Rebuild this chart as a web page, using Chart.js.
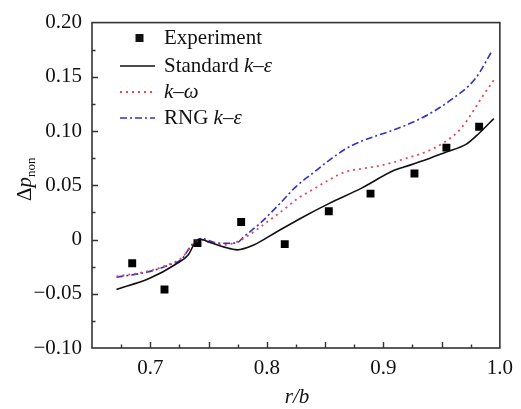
<!DOCTYPE html>
<html>
<head>
<meta charset="utf-8">
<script src="https://cdn.jsdelivr.net/npm/chart.js@4"></script>
<style>
  html, body { margin: 0; padding: 0; background: #fff; }
  canvas { display: block; }
</style>
</head>
<body>
<canvas id="pressureChart" width="521" height="409"></canvas>
<script>
// measured points
const expX = [0.6845, 0.7122, 0.7405, 0.778, 0.8154, 0.8532, 0.889, 0.9267, 0.9541, 0.9822];
const expY = [-0.0218, -0.046, -0.0033, 0.0161, -0.0042, 0.026, 0.0423, 0.0609, 0.0847, 0.104];

// Standard k-epsilon
const stdX = [0.671, 0.699, 0.7215, 0.7327, 0.7383, 0.7425, 0.7495, 0.7635, 0.7747, 0.7888, 0.8083, 0.8308, 0.8532, 0.8813, 0.9093, 0.9177, 0.9346, 0.9541, 0.9709, 0.9822, 0.9948];
const stdY = [-0.046, -0.036, -0.023, -0.014, -0.003, 0.0005, -0.002, -0.007, -0.0095, -0.005, 0.007, 0.0206, 0.0331, 0.0474, 0.0638, 0.0668, 0.0728, 0.0808, 0.0877, 0.098, 0.1115];

// k-omega
const kwX = [0.671, 0.699, 0.7158, 0.727, 0.7355, 0.743, 0.7495, 0.7635, 0.7747, 0.7831, 0.8, 0.8168, 0.8253, 0.8392, 0.8532, 0.8672, 0.8813, 0.8953, 0.9093, 0.9177, 0.9346, 0.9514, 0.9654, 0.9766, 0.9836, 0.9948];
const kwY = [-0.034, -0.029, -0.023, -0.017, -0.006, 0.0, -0.002, -0.005, -0.002, 0.003, 0.016, 0.0295, 0.037, 0.0459, 0.0549, 0.0623, 0.0653, 0.0677, 0.0713, 0.0743, 0.080, 0.089, 0.101, 0.1175, 0.1295, 0.147];

// RNG k-epsilon
const rngX = [0.671, 0.699, 0.7158, 0.727, 0.7355, 0.7439, 0.7551, 0.7663, 0.7747, 0.7804, 0.7943, 0.8111, 0.8253, 0.8392, 0.8532, 0.8672, 0.8813, 0.8953, 0.9093, 0.9346, 0.957, 0.9794, 0.9934];
const rngY = [-0.0347, -0.0296, -0.0236, -0.018, -0.005, 0.001, -0.0027, -0.0035, -0.0027, 0.0027, 0.015, 0.033, 0.049, 0.061, 0.0728, 0.0833, 0.0907, 0.0961, 0.1012, 0.113, 0.128, 0.149, 0.1742];

// axis ticks
const xTickValues = [0.7, 0.8, 0.9, 1.0];
const xTickLabels = ['0.7', '0.8', '0.9', '1.0'];
const yTickValues = [-0.10, -0.05, 0, 0.05, 0.10, 0.15, 0.20];
const yTickLabels = ['\u22120.10', '\u22120.05', '0', '0.05', '0.10', '0.15', '0.20'];

const serif = '"Liberation Serif", "Times New Roman", serif';
const black = '#111';
const red = '#e2485e';
const blue = '#3232c8';

function toPoints(xs, ys) {
    return xs.map((x, i) => ({ x: x, y: ys[i] }));
}

// draw text pieces one after another (roman / italic / subscript)
function drawParts(ctx, parts, x, y) {
    parts.forEach(p => {
        ctx.font = (p.italic ? 'italic ' : '') + (p.size || 21) + 'px ' + serif;
        ctx.fillText(p.text, x, y + (p.dy || 0));
        x += ctx.measureText(p.text).width;
    });
}

// frame, inward ticks and axis titles
const framePlugin = {
    id: 'frame',
    afterDraw(chart) {
        const ctx = chart.ctx;
        const area = chart.chartArea;
        const xs = chart.scales.x;
        const ys = chart.scales.y;
        ctx.save();
        ctx.strokeStyle = '#333';
        ctx.lineWidth = 1.6;
        ctx.strokeRect(area.left, area.top, area.right - area.left, area.bottom - area.top);

        ctx.lineWidth = 1.4;
        ctx.beginPath();
        for (let v = 0.675; v < 0.999; v += 0.025) {
            const px = Math.round(xs.getPixelForValue(v)) + 0.5;
            const major = Math.round(v * 1000) % 50 === 0;
            ctx.moveTo(px, area.bottom);
            ctx.lineTo(px, area.bottom - (major ? 6 : 3.5));
        }
        for (let v = -0.075; v < 0.199; v += 0.025) {
            const py = Math.round(ys.getPixelForValue(v)) + 0.5;
            const major = Math.round(Math.abs(v) * 1000) % 50 === 0;
            ctx.moveTo(area.left, py);
            ctx.lineTo(area.left + (major ? 6 : 3.5), py);
        }
        ctx.stroke();

        ctx.fillStyle = black;
        ctx.textBaseline = 'alphabetic';

        // x title
        ctx.font = 'italic 21px ' + serif;
        ctx.textAlign = 'center';
        ctx.fillText('r/b', 297, 403);

        // y title, rotated
        ctx.textAlign = 'left';
        ctx.translate(31, 201);
        ctx.rotate(-Math.PI / 2);
        drawParts(ctx, [
            { text: '\u0394' },
            { text: 'p', italic: true },
            { text: 'non', size: 13, dy: 4 }
        ], 0, 0);
        ctx.restore();
    }
};

// legend box in the upper left corner
const legendPlugin = {
    id: 'modelLegend',
    afterDraw(chart) {
        const ctx = chart.ctx;
        const textX = 164;
        const rows = [38, 66, 92, 118];
        ctx.save();
        ctx.textBaseline = 'middle';
        ctx.textAlign = 'left';
        ctx.fillStyle = black;

        // Experiment
        ctx.fillRect(135.5, rows[0] - 4, 8, 8);
        drawParts(ctx, [{ text: 'Experiment' }], textX, rows[0]);

        // line samples
        const samples = [
            { color: black, dash: [], width: 1.6 },
            { color: red, dash: [2, 4], width: 1.8 },
            { color: blue, dash: [7, 3, 2, 3], width: 1.6 }
        ];
        samples.forEach((s, i) => {
            ctx.beginPath();
            ctx.strokeStyle = s.color;
            ctx.lineWidth = s.width;
            ctx.setLineDash(s.dash);
            ctx.moveTo(120, rows[i + 1]);
            ctx.lineTo(155, rows[i + 1]);
            ctx.stroke();
        });
        ctx.setLineDash([]);

        ctx.fillStyle = black;
        drawParts(ctx, [
            { text: 'Standard ' }, { text: 'k', italic: true }, { text: '\u2013' }, { text: '\u03b5', italic: true }
        ], textX, rows[1]);
        drawParts(ctx, [
            { text: 'k', italic: true }, { text: '\u2013' }, { text: '\u03c9', italic: true }
        ], textX, rows[2]);
        drawParts(ctx, [
            { text: 'RNG ' }, { text: 'k', italic: true }, { text: '\u2013' }, { text: '\u03b5', italic: true }
        ], textX, rows[3]);
        ctx.restore();
    }
};

const tickFont = { family: serif, size: 21 };

const pressureChart = new Chart(document.getElementById('pressureChart'), {
    type: 'scatter',
    data: {
        datasets: [
            {
                label: 'Standard k-ε',
                data: toPoints(stdX, stdY),
                showLine: true,
                borderColor: black,
                borderWidth: 1.6,
                pointRadius: 0,
                cubicInterpolationMode: 'monotone'
            },
            {
                label: 'k-ω',
                data: toPoints(kwX, kwY),
                showLine: true,
                borderColor: red,
                borderWidth: 1.8,
                borderDash: [2, 4],
                pointRadius: 0,
                cubicInterpolationMode: 'monotone'
            },
            {
                label: 'RNG k-ε',
                data: toPoints(rngX, rngY),
                showLine: true,
                borderColor: blue,
                borderWidth: 1.6,
                borderDash: [7, 3, 2, 3],
                pointRadius: 0,
                cubicInterpolationMode: 'monotone'
            },
            {
                label: 'Experiment',
                data: toPoints(expX, expY),
                showLine: false,
                pointStyle: 'rect',
                pointRadius: 5.6,
                backgroundColor: '#000',
                borderWidth: 0
            }
        ]
    },
    options: {
        responsive: false,
        animation: false,
        devicePixelRatio: 1,
        layout: { padding: { top: 13, right: 13, left: 0, bottom: 0 } },
        plugins: {
            legend: { display: false },
            tooltip: { enabled: false }
        },
        scales: {
            x: {
                type: 'linear',
                min: 0.65,
                max: 1.0,
                afterBuildTicks: s => { s.ticks = xTickValues.map(v => ({ value: v })); },
                afterFit: s => { s.height = 61; },
                ticks: {
                    callback: (v, i) => xTickLabels[i],
                    font: tickFont,
                    color: black,
                    padding: 8,
                    maxRotation: 0,
                    autoSkip: false
                },
                grid: { display: false, drawTicks: false },
                border: { display: false }
            },
            y: {
                type: 'linear',
                min: -0.10,
                max: 0.20,
                afterBuildTicks: s => { s.ticks = yTickValues.map(v => ({ value: v })); },
                afterFit: s => { s.width = 92; },
                ticks: {
                    callback: (v, i) => yTickLabels[i],
                    font: tickFont,
                    color: black,
                    padding: 10,
                    autoSkip: false
                },
                grid: { display: false, drawTicks: false },
                border: { display: false }
            }
        }
    },
    plugins: [framePlugin, legendPlugin]
});
</script>
</body>
</html>
